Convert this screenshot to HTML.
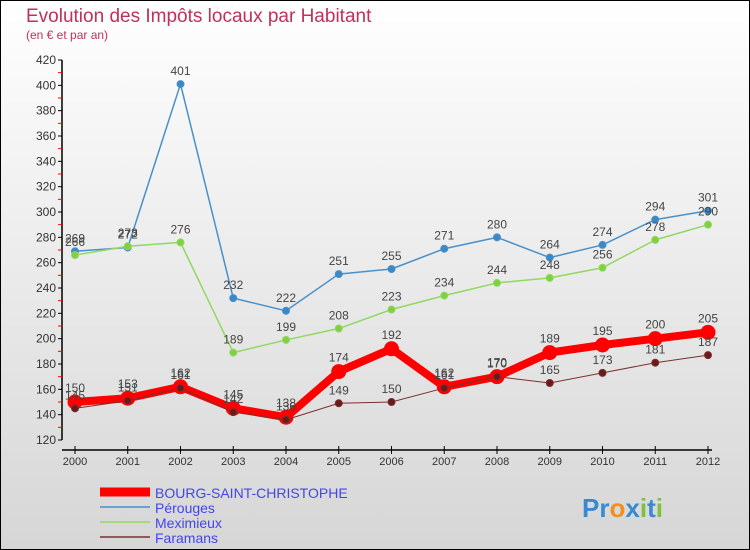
<!DOCTYPE html>
<html><head><meta charset="utf-8"><style>
body{margin:0;width:750px;height:550px;overflow:hidden;font-family:"Liberation Sans",sans-serif}
#wrap{position:absolute;left:0;top:0;width:748px;height:548px;border:1px solid #000;background:linear-gradient(#fff,#d6d6d6)}
</style></head><body>
<div id="wrap">
<svg width="750" height="550" id="svg" style="position:absolute;left:-1px;top:-1px">
<text x="26" y="22" font-size="19" fill="#c0305a">Evolution des Impôts locaux par Habitant</text>
<text x="26" y="39" font-size="12" fill="#c0305a">(en € et par an)</text>
<g id="axes"></g><g id="series"></g>
<g font-size="14" fill="#4444ee">
<line x1="100" y1="492" x2="150" y2="492" stroke="#f00" stroke-width="9"/>
<text x="155" y="498">BOURG-SAINT-CHRISTOPHE</text>
<line x1="100" y1="507" x2="150" y2="507" stroke="#4a90c8" stroke-width="1.5"/>
<text x="155" y="513">Pérouges</text>
<line x1="100" y1="522" x2="150" y2="522" stroke="#90d860" stroke-width="1.5"/>
<text x="155" y="528">Meximieux</text>
<line x1="100" y1="537" x2="150" y2="537" stroke="#7a3030" stroke-width="1.5"/>
<text x="155" y="543">Faramans</text>
</g>
<text x="582" y="517" font-size="26" font-weight="bold"><tspan fill="#3a8ad0">Pr</tspan><tspan fill="#f09020">o</tspan><tspan fill="#3a8ad0">x</tspan><tspan fill="#80c040">i</tspan><tspan fill="#3a8ad0">t</tspan><tspan fill="#80c040">i</tspan></text>
</svg></div>
<script>
const years=[2000,2001,2002,2003,2004,2005,2006,2007,2008,2009,2010,2011,2012];
const perouges=[269,272,401,232,222,251,255,271,280,264,274,294,301];
const meximieux=[266,273,276,189,199,208,223,234,244,248,256,278,290];
const bourg=[150,153,162,145,138,174,192,162,170,189,195,200,205];
const faramans=[145,151,161,142,136,149,150,161,170,165,173,181,187];
const yTicks=[120,140,160,180,200,220,240,260,280,300,320,340,360,380,400,420];
const NS="http://www.w3.org/2000/svg";
const xS=i=>75+i*52.75;
const yS=v=>440-(v-120)*(380/300);
function mk(t,a,p){const e=document.createElementNS(NS,t);for(const k in a)e.setAttribute(k,a[k]);p.appendChild(e);return e;}
const ax=document.getElementById('axes'),sg=document.getElementById('series');
let e=mk('line',{x1:62,y1:yS(420),x2:62,y2:yS(120),stroke:'#000','stroke-width':1.5},ax);


e=mk('line',{x1:62,y1:450,x2:712,y2:450,stroke:'#000','stroke-width':1.5},ax);


yTicks.forEach((v,i)=>{const y=yS(v);mk('line',{x1:58,y1:y,x2:62,y2:y,stroke:'#000'},ax);
if(i<yTicks.length-1)mk('line',{x1:58,y1:y-12.67,x2:62,y2:y-12.67,stroke:'#f00'},ax);
const t=mk('text',{x:56,y:y+4,'font-size':12,fill:'#333','text-anchor':'end'},ax);t.textContent=v;

});
years.forEach((yr,i)=>{const x=xS(i);mk('line',{x1:x,y1:446,x2:x,y2:454,stroke:'#000'},ax);
const t=mk('text',{x:x,y:465,'font-size':11,fill:'#333','text-anchor':'middle'},ax);t.textContent=yr;

});
function series(d,name,col,w,r,dot,dy){const g=mk('g',{},sg);


mk('polyline',{points:d.map((v,i)=>xS(i)+','+yS(v)).join(' '),fill:'none',stroke:col,'stroke-width':w,'stroke-linejoin':'round'},g);
d.forEach((v,i)=>{const c=mk('circle',{cx:xS(i),cy:yS(v),r:r,fill:dot,stroke:col,'stroke-width':1},g);


const t=mk('text',{x:xS(i),y:yS(v)+dy,'font-size':12,fill:'#444','text-anchor':'middle'},g);t.textContent=v;

});}
series(perouges,'perouges','#4a90c8',1.5,3.5,'#3a88c8',-9);
series(meximieux,'meximieux','#90d860',1.5,3.5,'#80d040',-9);
series(bourg,'bourg','#f00',8,7,'#f00',-10);
series(faramans,'faramans','#7a3030',1,3.5,'#6a1a1a',-9);
</script></body></html>
